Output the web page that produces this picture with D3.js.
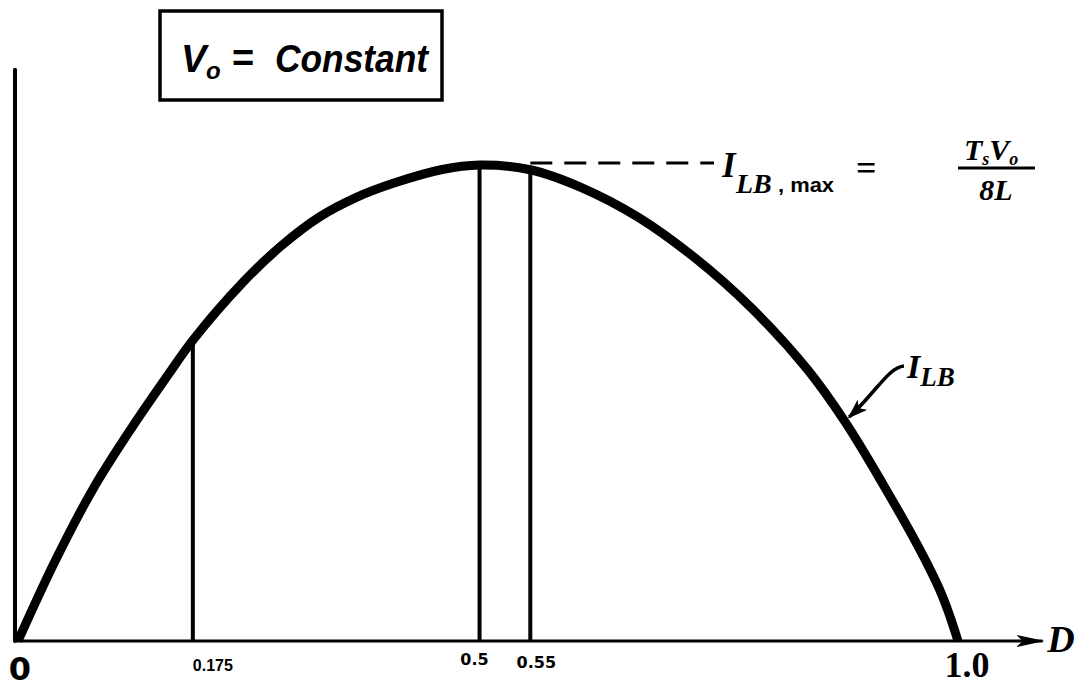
<!DOCTYPE html>
<html>
<head>
<meta charset="utf-8">
<script src="https://cdn.jsdelivr.net/npm/d3@7"></script>
<style>
  body { margin: 0; background: #fff; }
  svg { display: block; }
  text { fill: #000; }
</style>
</head>
<body>
<div id="chart"></div>
<script>
// duty ratio D and normalised boundary current I_LB / I_LB,max
const dutyRatio = [0, 0.04, 0.08, 0.12, 0.16, 0.186, 0.24, 0.28, 0.32, 0.36, 0.40, 0.45, 0.491, 0.545,
                   0.60, 0.66, 0.72, 0.78, 0.84, 0.88, 0.92, 0.96, 0.98, 0.99, 1];
const currentRatio = [0, 0.17, 0.32, 0.445, 0.56, 0.632, 0.755, 0.83, 0.89, 0.932, 0.962, 0.99, 1, 0.99,
                      0.952, 0.89, 0.805, 0.70, 0.57, 0.46, 0.33, 0.19, 0.11, 0.06, 0];

// vertical marker lines (where they are drawn on the axis) and their labels
const markD = [0.186, 0.491, 0.545];
const markLabels = ["0.175", "0.5", "0.55"];
const endLabels = ["0", "1.0"];

let width = 1086,
    height = 688;

const svg = d3.select("#chart")
  .append("svg")
  .attr("width", width)
  .attr("height", height);

let x = d3.scaleLinear().domain([0, 1]).range([18, 958]);
let y = d3.scaleLinear().domain([0, 1]).range([641, 165]);

let data = dutyRatio.map((d, i) => ({ D: d, I: currentRatio[i] }));

// value on the drawn curve at a given D (for where the marker lines stop)
let bis = d3.bisector(d => d.D).left;
function curveAt(d) {
  let i = Math.max(1, bis(data, d));
  let a = data[i - 1], b = data[i];
  let t = (d - a.D) / (b.D - a.D);
  return a.I + t * (b.I - a.I);
}

let defs = svg.append("defs");
defs.append("marker")
  .attr("id", "axisArrow")
  .attr("viewBox", "0 0 28 14")
  .attr("refX", 26).attr("refY", 7)
  .attr("markerWidth", 28).attr("markerHeight", 14)
  .attr("markerUnits", "userSpaceOnUse")
  .attr("orient", "auto")
  .append("path")
  .attr("d", "M0,1 L28,7 L0,13 L6,7 Z")
  .attr("fill", "#000");
defs.append("marker")
  .attr("id", "noteArrow")
  .attr("viewBox", "0 0 20 14")
  .attr("refX", 18).attr("refY", 7)
  .attr("markerWidth", 20).attr("markerHeight", 14)
  .attr("markerUnits", "userSpaceOnUse")
  .attr("orient", "auto")
  .append("path")
  .attr("d", "M0,0 L20,7 L0,14 L5,7 Z")
  .attr("fill", "#000");

// axes
svg.append("line") // D axis with arrow
  .attr("x1", x(0) - 4).attr("x2", x(1.09))
  .attr("y1", y(0)).attr("y2", y(0))
  .attr("stroke", "#000").attr("stroke-width", 3)
  .attr("marker-end", "url(#axisArrow)");

svg.append("line") // vertical axis
  .attr("x1", x(0) - 3).attr("x2", x(0) - 3)
  .attr("y1", y(0)).attr("y2", y(1.2))
  .attr("stroke", "#000").attr("stroke-width", 4)
  .attr("stroke-linecap", "round");

// marker lines
svg.selectAll(".mark")
  .data(markD)
  .join("line")
  .attr("class", "mark")
  .attr("x1", d => x(d)).attr("x2", d => x(d))
  .attr("y1", y(0)).attr("y2", d => y(curveAt(d)))
  .attr("stroke", "#000").attr("stroke-width", 4);

let labelDx = [20, -5, 6],
    labelY = [671, 665, 668],
    labelFont = ["Liberation Sans", "DejaVu Sans", "DejaVu Sans"];
svg.selectAll(".markLabel")
  .data(markD)
  .join("text")
  .attr("class", "markLabel")
  .attr("x", (d, i) => x(d) + labelDx[i])
  .attr("y", (d, i) => labelY[i])
  .attr("text-anchor", "middle")
  .attr("font-family", (d, i) => labelFont[i])
  .attr("font-weight", "bold")
  .attr("font-size", 16)
  .text((d, i) => markLabels[i]);

// end labels 0 and 1.0
svg.append("text")
  .attr("x", x(0) + 2).attr("y", 680)
  .attr("text-anchor", "middle")
  .attr("font-family", "DejaVu Sans").attr("font-weight", "bold")
  .attr("font-size", 32)
  .text(endLabels[0]);
svg.append("text")
  .attr("x", x(1) + 9).attr("y", 677)
  .attr("text-anchor", "middle")
  .attr("font-family", "Liberation Serif").attr("font-weight", "bold")
  .attr("font-size", 36)
  .text(endLabels[1]);

svg.append("text") // D
  .attr("x", x(1.095)).attr("y", 652)
  .attr("font-family", "Liberation Serif").attr("font-weight", "bold").attr("font-style", "italic")
  .attr("font-size", 38)
  .text("D");

// dashed line from the peak to the I_LB,max label
svg.append("line")
  .attr("x1", x(0.545)).attr("x2", 714)
  .attr("y1", y(1) - 2).attr("y2", y(1) - 2)
  .attr("stroke", "#000").attr("stroke-width", 3)
  .attr("stroke-dasharray", "22,12");

// the curve
let line = d3.line()
  .x(d => x(d.D))
  .y(d => y(d.I))
  .curve(d3.curveCatmullRom.alpha(0.5));

svg.append("path")
  .datum(data)
  .attr("fill", "none")
  .attr("stroke", "#000")
  .attr("stroke-width", 9)
  .attr("stroke-linejoin", "round")
  .attr("d", line);

// I_LB,max = TsVo / 8L
let note = svg.append("g")
  .attr("font-family", "Liberation Serif").attr("font-weight", "bold");
note.append("text").attr("x", 722).attr("y", 177)
  .attr("font-style", "italic").attr("font-size", 35).text("I");
note.append("text").attr("x", 736).attr("y", 193)
  .attr("font-style", "italic").attr("font-size", 28).text("LB");
note.append("text").attr("x", 778).attr("y", 192)
  .attr("font-family", "Liberation Sans").attr("font-size", 20)
  .attr("textLength", 56).attr("lengthAdjust", "spacingAndGlyphs").text(", max");
note.append("text").attr("x", 856).attr("y", 180)
  .attr("font-size", 36).text("=");
note.append("line")
  .attr("x1", 958).attr("x2", 1035).attr("y1", 168).attr("y2", 168)
  .attr("stroke", "#000").attr("stroke-width", 3);
let num = note.append("text").attr("x", 964).attr("y", 160)
  .attr("font-style", "italic").attr("font-size", 30);
num.append("tspan").text("T");
num.append("tspan").attr("font-size", 18).attr("dy", 5).text("s");
num.append("tspan").attr("dy", -5).text("V");
num.append("tspan").attr("font-size", 18).attr("dy", 5).text("o");
note.append("text").attr("x", 996).attr("y", 200)
  .attr("text-anchor", "middle")
  .attr("font-style", "italic").attr("font-size", 30).text("8L");

// I_LB pointer
let tipD = 0.88;
svg.append("path")
  .attr("d", `M904,366 C889,367 876,392 ${x(tipD) + 4},${y(curveAt(tipD)) - 5}`)
  .attr("fill", "none").attr("stroke", "#000").attr("stroke-width", 3.5)
  .attr("marker-end", "url(#noteArrow)");
let lb = svg.append("text").attr("x", 907).attr("y", 378)
  .attr("font-family", "Liberation Serif").attr("font-weight", "bold").attr("font-style", "italic")
  .attr("font-size", 34);
lb.append("tspan").text("I");
lb.append("tspan").attr("font-size", 27).attr("dy", 8).text("LB");

// V_o = Constant box
svg.append("rect")
  .attr("x", 160).attr("y", 11).attr("width", 282).attr("height", 89)
  .attr("fill", "none").attr("stroke", "#000").attr("stroke-width", 3.5);
let box = svg.append("g")
  .attr("font-family", "Liberation Sans").attr("font-weight", "bold").attr("font-style", "italic");
box.append("text").attr("x", 181).attr("y", 72).attr("font-size", 38).text("V");
box.append("text").attr("x", 206).attr("y", 79).attr("font-size", 24).text("o");
box.append("text").attr("x", 232).attr("y", 71).attr("font-size", 38)
  .attr("font-style", "normal").text("=");
box.append("text").attr("x", 275).attr("y", 72).attr("font-size", 38)
  .attr("textLength", 153).attr("lengthAdjust", "spacingAndGlyphs").text("Constant");
</script>
</body>
</html>
